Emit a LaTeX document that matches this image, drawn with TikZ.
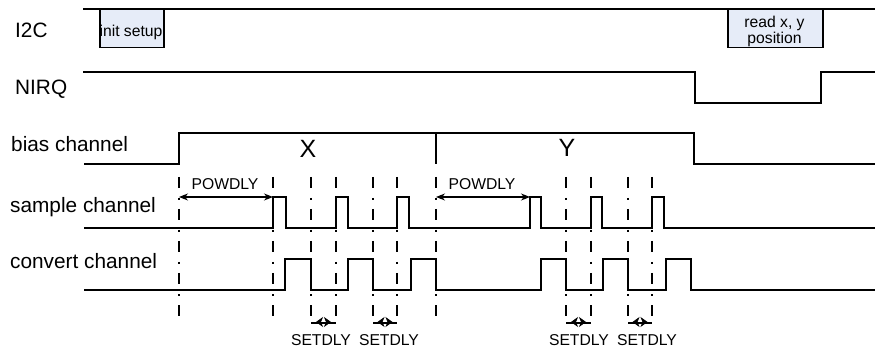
\documentclass[tikz,border=0pt]{standalone}
\usepackage{fontspec}
\setmainfont{Liberation Sans}
\usetikzlibrary{arrows.meta}
\definecolor{boxfill}{RGB}{230,236,248}
\begin{document}
\begin{tikzpicture}[x=1pt,y=-1pt,
  sig/.style={line width=1.6pt, line join=miter},
  guide/.style={line width=2.1pt, dash pattern=on 11pt off 10pt on 1.8pt off 9.2pt},
  lab/.style={anchor=base west, inner sep=0pt, font=\fontsize{20.8}{24}\selectfont},
  small/.style={inner sep=0pt, font=\fontsize{15.7}{16}\selectfont},
  big/.style={inner sep=0pt, anchor=base, font=\fontsize{25}{28}\selectfont},
  busbox/.style={draw, line width=1.5pt, fill=boxfill, inner sep=0pt, anchor=north west},
  dim/.style={line width=1.1pt, {Stealth[length=9pt,width=7pt]}-{Stealth[length=9pt,width=7pt]}},
  setline/.style={line width=1.3pt},
  setarrow/.style={line width=0.8pt, {Stealth[length=7pt,width=10pt,inset=2pt]}-{Stealth[length=7pt,width=10pt,inset=2pt]}},
]
\useasboundingbox (0,0) rectangle (875,347);

% labels
\node[lab] (l1) at (15,38) {I2C};
\node[lab] (l2) at (15,95) {NIRQ};
\node[lab] (l3) at (11,152) {bias channel};
\node[lab] (l4) at (10,213) {sample channel};
\node[lab] (l5) at (10,269) {convert channel};

% I2C
\draw[sig] (83,9) -- (875,9);
\node[busbox, minimum width=64pt, minimum height=38pt] (init) at (99,9) {};
\node[small, anchor=base] (initt) at (131,37) {init setup};
\node[busbox, minimum width=95pt, minimum height=38pt] (rd) at (727,9) {};
\node[small, align=center] (rdt) at (774.5,31) {read x, y\\position};

% NIRQ
\draw[sig] (83,72) -- (695,72) -- (695,103) -- (821,103) -- (821,72) -- (875,72);

% bias channel
\draw[sig] (84,164) -- (179,164) -- (179,133) -- (694,133) -- (694,164) -- (875,164);
\draw[sig] (436,133) -- (436,164);
\node[big] (bx) at (308,158) {X};
\node[big] (by) at (567,157) {Y};

% sample channel
\draw[sig] (84,228) -- (273,228) -- (273,197) -- (286,197) -- (286,228)
  -- (336,228) -- (336,197) -- (348,197) -- (348,228)
  -- (397,228) -- (397,197) -- (409,197) -- (409,228)
  -- (530,228) -- (530,197) -- (541,197) -- (541,228)
  -- (591,228) -- (591,197) -- (602,197) -- (602,228)
  -- (652,228) -- (652,197) -- (664,197) -- (664,228) -- (875,228);

% convert channel
\draw[sig] (84,290) -- (285,290) -- (285,259) -- (311,259) -- (311,290)
  -- (348,290) -- (348,259) -- (373,259) -- (373,290)
  -- (411,290) -- (411,259) -- (436,259) -- (436,290)
  -- (541,290) -- (541,259) -- (566,259) -- (566,290)
  -- (603,290) -- (603,259) -- (628,259) -- (628,290)
  -- (666,290) -- (666,259) -- (691,259) -- (691,290) -- (875,290);

% guide lines
\foreach \n/\x in {a/179,b/273,c/311,d/336,e/373,f/397,g/436,h/566,i/591,j/628,k/652} {
  \coordinate (\n-t) at (\x,177);
  \coordinate (\n-b) at (\x,323);
  \draw[guide] (\n-t) -- (\n-b);
}

% POWDLY
\coordinate (p1l) at (179,197); \coordinate (p1r) at (273,197);
\coordinate (p2l) at (436,197); \coordinate (p2r) at (530,197);
\draw[dim] (p1l) -- (p1r);
\draw[dim] (p2l) -- (p2r);
\node[small, anchor=base] (pw1) at (225,190) {POWDLY};
\node[small, anchor=base] (pw2) at (482,190) {POWDLY};

% SETDLY
\foreach \l/\r/\c/\t in {c/d/323.5/321, e/f/385/389, h/i/578.5/579, j/k/640/647} {
  \draw[setline] (\l-b) -- (\r-b);
  \coordinate (sl) at (\c-7.5,322);
  \coordinate (sr) at (\c+7.5,322);
  \draw[setarrow] (sl) -- (sr);
  \node[small, anchor=base] at (\t,345) {SETDLY};
}
\end{tikzpicture}
\end{document}
